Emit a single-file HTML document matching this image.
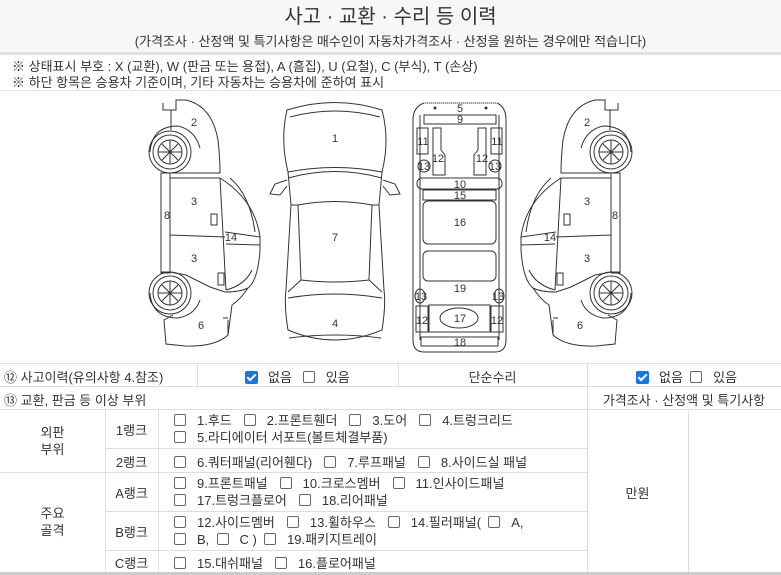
<!DOCTYPE html>
<html><head><meta charset="utf-8"><style>
*{margin:0;padding:0;box-sizing:border-box}
body{width:781px;height:575px;background:#fff;font-family:"Liberation Sans","Noto Sans CJK KR",sans-serif;color:#333;position:relative;overflow:hidden;font-size:13px}
.a{position:absolute;white-space:nowrap}
.hl{position:absolute;height:1px;background:#ddd}
.vl{position:absolute;width:1px;background:#ddd}
.cb{display:inline-block;width:12px;height:12px;border:1px solid #666;border-radius:2px;vertical-align:-1px;margin-right:11px;background:#fff}
.ck{display:inline-block;width:13px;height:13px;border-radius:2px;background:#1a73e8;vertical-align:-2px;margin-right:10px;position:relative}
.ck:after{content:"";position:absolute;left:4px;top:1px;width:3px;height:7px;border:solid #fff;border-width:0 2px 2px 0;transform:rotate(45deg)}
.it{margin-right:12px}
</style></head><body>
<div class="a" style="left:0;top:0;width:781px;height:52px;background:#f7f7f7"></div>
<div class="a" style="left:0;top:0;width:781px;text-align:center;font-size:20px;top:0px;color:#333">사고 · 교환 · 수리 등 이력</div>
<div class="a" style="left:0;top:31px;width:781px;text-align:center;font-size:13px">(가격조사 · 산정액 및 특기사항은 매수인이 자동차가격조사 · 산정을 원하는 경우에만 적습니다)</div>
<div class="a" style="left:0;top:52px;width:781px;height:3px;background:#e2e2e2"></div>
<div class="a" style="left:12px;top:56px;font-size:13px">※ 상태표시 부호 : X (교환), W (판금 또는 용접), A (흠집), U (요철), C (부식), T (손상)</div>
<div class="a" style="left:12px;top:72px;font-size:13px">※ 하단 항목은 승용차 기준이며, 기타 자동차는 승용차에 준하여 표시</div>
<div class="hl" style="left:0;top:90px;width:781px;background:#e2e2e2"></div>

<svg class="a" style="left:0;top:0" width="781" height="362" viewBox="0 0 781 362" fill="none" stroke="#333" stroke-width="1">
<g id="side">
<path d="M163,103 L163,110 L176,110 L176,100 L186,100 Q212,106 218,140 Q220,158 220,173 L161,173 L161,272 L170,272"/>
<path d="M171,110 L171,130"/>
<path d="M170,178 L220,178 Q255,200 260,237 L260,250 Q258,280 248,288 Q240,292 225,292 L210,287 Q196,280 186,275 L170,272"/>
<rect x="161" y="173" width="9" height="100"/>
<path d="M170,178 L170,270 M220,178 L226,290 M226,290 Q245,285 252,270 M170,235 L225,237"/>
<path d="M225,232 L260,237 L260,245 L226,244"/>
<path d="M230,178 Q250,195 255,232"/>
<rect x="211" y="214" width="6" height="11"/>
<rect x="218" y="273" width="6" height="12"/>
<path d="M248,288 Q240,300 232,305 L228,335 Q215,347 185,346 L166,344 L164,320 L173,315"/>
<path d="M228,320 L228,335 M223,318 L228,318"/>
<circle cx="170" cy="152" r="21"/><circle cx="170" cy="152" r="17"/><circle cx="170" cy="152" r="12"/>
<path d="M158,152 H182 M170,140 V164 M162,144 L178,160 M178,144 L162,160"/>
<path d="M150,152 Q152,126 178,126 Q195,130 200,148"/>
<circle cx="170" cy="293" r="21"/><circle cx="170" cy="293" r="17"/><circle cx="170" cy="293" r="12"/>
<path d="M158,293 H182 M170,281 V305 M162,285 L178,301 M178,285 L162,301"/>
<path d="M150,293 Q152,318 178,318 Q195,315 200,300"/>
</g>
<use href="#side" transform="translate(781,0) scale(-1,1)"/>
<path d="M287,110 Q335,95 382,110 Q390,140 382,172 Q335,163 288,172 Q280,140 287,110 Z"/>
<path d="M290,117 Q335,105 380,117"/>
<path d="M288,172 L291,205 L286,290 Q284,305 288,330 Q335,350 382,330 Q386,305 384,290 L379,205 L382,172"/>
<path d="M288,178 Q335,165 382,178"/>
<path d="M298,205 Q335,198 372,205 L369,280 Q335,284 301,280 Z"/>
<path d="M291,205 L298,205 M379,205 L372,205 M288,292 L301,280 M382,292 L369,280"/>
<path d="M288,298 Q335,290 382,298 M289,338 Q335,332 381,338"/>
<path d="M287,180 L275,184 L270,194 L280,195 L287,186"/>
<path d="M383,180 L395,184 L400,194 L390,195 L383,186"/>
<path d="M424,103 L497,103 Q506,107 506,120 L506,340 Q506,352 495,352 L424,352 Q413,352 413,340 L413,120 Q413,107 424,103 Z"/>
<path d="M420,115 L420,340 M499,115 L499,340"/>
<rect x="424" y="115" width="72" height="9"/>
<rect x="417" y="128" width="11" height="26"/><rect x="491" y="128" width="11" height="26"/>
<path d="M433,128 L441,128 L441,150 L445,155 L445,175 L433,175 Z"/>
<path d="M486,128 L478,128 L478,150 L474,155 L474,175 L486,175 Z"/>
<circle cx="424" cy="166" r="6"/><circle cx="495" cy="166" r="6"/>
<rect x="417" y="178" width="85" height="11" rx="5"/>
<rect x="423" y="190" width="73" height="10"/>
<rect x="423" y="201" width="73" height="43" rx="5"/>
<rect x="423" y="251" width="73" height="30" rx="5"/>
<ellipse cx="420" cy="296" rx="5" ry="7"/><ellipse cx="499" cy="296" rx="5" ry="7"/>
<rect x="429" y="305" width="61" height="27"/>
<ellipse cx="459" cy="318" rx="19" ry="10"/>
<rect x="416" y="306" width="12" height="26"/><rect x="491" y="306" width="12" height="26"/>
<rect x="421" y="337" width="77" height="9"/>
<path d="M424,103 L497,103" stroke="#bbb" stroke-dasharray="1,1"/>
<g fill="#333" stroke="none" font-family="Liberation Sans, sans-serif" font-size="11" text-anchor="middle">
<circle cx="435" cy="108" r="1.5"/><circle cx="486" cy="108" r="1.5"/>
<text x="194" y="126">2</text><text x="194" y="205">3</text><text x="167" y="219">8</text><text x="194" y="262">3</text><text x="231" y="241">14</text><text x="201" y="329">6</text>
<text x="587" y="126">2</text><text x="587" y="205">3</text><text x="615" y="219">8</text><text x="587" y="262">3</text><text x="550" y="241">14</text><text x="580" y="329">6</text>
<text x="335" y="142">1</text><text x="335" y="241">7</text><text x="335" y="327">4</text>
<text x="460" y="112">5</text><text x="460" y="123">9</text><text x="423" y="145">11</text><text x="497" y="145">11</text>
<text x="438" y="162">12</text><text x="482" y="162">12</text><text x="424" y="170">13</text><text x="495" y="170">13</text>
<text x="460" y="188">10</text><text x="460" y="199">15</text><text x="460" y="226">16</text><text x="460" y="292">19</text>
<text x="421" y="300">13</text><text x="498" y="300">13</text><text x="460" y="322">17</text><text x="422" y="324">12</text><text x="497" y="324">12</text><text x="460" y="346">18</text>
</g>
</svg>

<div class="hl" style="left:0;top:363px;width:781px"></div>
<div class="hl" style="left:0;top:386px;width:781px"></div>
<div class="hl" style="left:0;top:409px;width:781px"></div>
<div class="hl" style="left:105px;top:448px;width:482px"></div>
<div class="hl" style="left:0;top:472px;width:587px"></div>
<div class="hl" style="left:105px;top:511px;width:482px"></div>
<div class="hl" style="left:105px;top:550px;width:482px"></div>
<div class="a" style="left:0;top:572px;width:781px;height:3px;background:#ccc"></div>
<div class="vl" style="left:197px;top:363px;height:23px"></div>
<div class="vl" style="left:398px;top:363px;height:23px"></div>
<div class="vl" style="left:587px;top:363px;height:209px"></div>
<div class="vl" style="left:105px;top:409px;height:163px"></div>
<div class="vl" style="left:158px;top:409px;height:163px"></div>
<div class="vl" style="left:688px;top:409px;height:163px"></div>

<div class="a" style="left:4px;top:367px">⑫ 사고이력(유의사항 4.참조)</div>
<div class="a" style="left:245px;top:367px"><span class="ck"></span>없음 &nbsp; <span class="cb"></span>있음</div>
<div class="a" style="left:398px;top:367px;width:189px;text-align:center">단순수리</div>
<div class="a" style="left:636px;top:367px"><span class="ck"></span>없음 &nbsp;<span class="cb"></span>있음</div>
<div class="a" style="left:4px;top:390px">⑬ 교환, 판금 등 이상 부위</div>
<div class="a" style="left:587px;top:390px;width:194px;text-align:center">가격조사 · 산정액 및 특기사항</div>

<div class="a" style="left:0;top:424px;width:105px;text-align:center;line-height:17px">외판<br>부위</div>
<div class="a" style="left:0;top:505px;width:105px;text-align:center;line-height:17px">주요<br>골격</div>
<div class="a" style="left:105px;top:420px;width:53px;text-align:center">1랭크</div>
<div class="a" style="left:105px;top:452px;width:53px;text-align:center">2랭크</div>
<div class="a" style="left:105px;top:483px;width:53px;text-align:center">A랭크</div>
<div class="a" style="left:105px;top:522px;width:53px;text-align:center">B랭크</div>
<div class="a" style="left:105px;top:553px;width:53px;text-align:center">C랭크</div>
<div class="a" style="left:587px;top:483px;width:101px;text-align:center">만원</div>

<div class="a" style="left:174px;top:412px;line-height:17px"><span class="cb"></span><span class="it">1.후드</span><span class="cb"></span><span class="it">2.프론트휀더</span><span class="cb"></span><span class="it">3.도어</span><span class="cb"></span>4.트렁크리드<br><span class="cb"></span>5.라디에이터 서포트(볼트체결부품)</div>
<div class="a" style="left:174px;top:452px"><span class="cb"></span><span class="it">6.쿼터패널(리어휀다)</span><span class="cb"></span><span class="it">7.루프패널</span><span class="cb"></span>8.사이드실 패널</div>
<div class="a" style="left:174px;top:475px;line-height:17px"><span class="cb"></span><span class="it">9.프론트패널</span><span class="cb"></span><span class="it">10.크로스멤버</span><span class="cb"></span>11.인사이드패널<br><span class="cb"></span><span class="it">17.트렁크플로어</span><span class="cb"></span>18.리어패널</div>
<div class="a" style="left:174px;top:514px;line-height:17px"><span class="cb"></span><span class="it">12.사이드멤버</span><span class="cb"></span><span class="it">13.휠하우스</span><span class="cb"></span>14.필러패널( &nbsp;<span class="cb"></span>A,<br><span class="cb"></span>B, &nbsp;<span class="cb"></span>C ) &nbsp;<span class="cb"></span>19.패키지트레이</div>
<div class="a" style="left:174px;top:553px"><span class="cb"></span><span class="it">15.대쉬패널</span><span class="cb"></span>16.플로어패널</div>
</body></html>
